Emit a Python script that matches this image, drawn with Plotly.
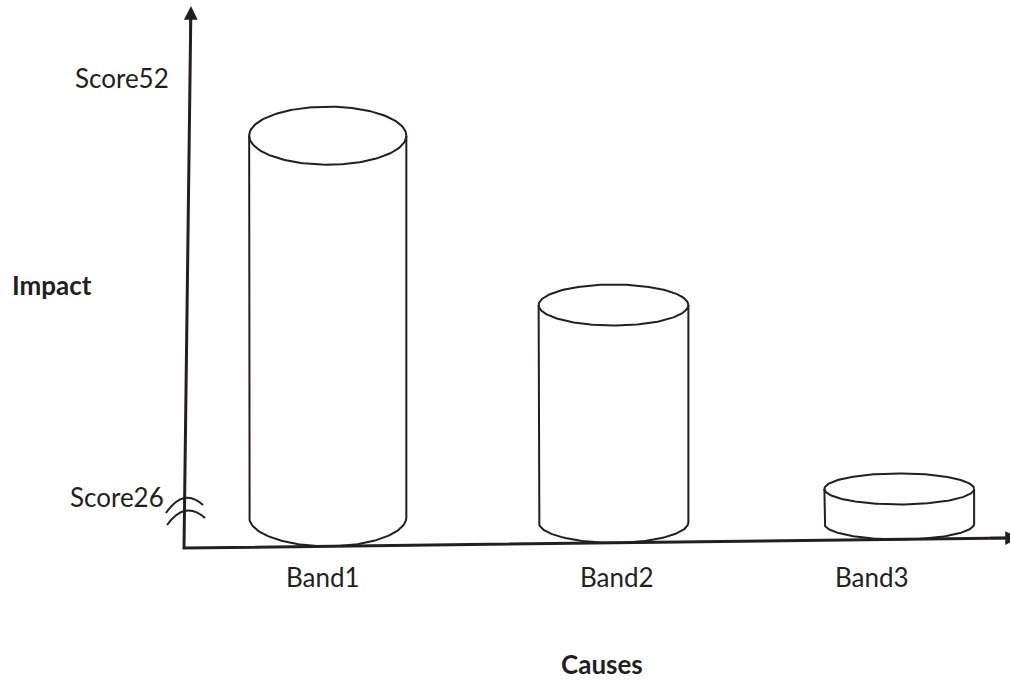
import numpy as np
import plotly.graph_objects as go

# ---------------- data ----------------
categories = ["Band1", "Band2", "Band3"]
impact = [48.4, 37.9, 26.5]
tick_values = [26, 52]
tick_labels = ["Score26", "Score52"]
x_title = "Causes"
y_title = "Impact"

# ---------------- style ----------------
W, H = 1010, 681
INK = "#231f20"
FONT = "Lato"
FS = 26
half_width = [0.275, 0.262, 0.262]      # cylinder half width (category units)
ellipse_ry_px = [29, 20.5, 15.5]        # perspective depth of each cylinder
label_xshift = [-5, 3, -27]             # hand-placed band labels

# axis scale (pixels per unit) and placement
PX_PER_X, X0_PX = 285.75, 327.75
PX_PER_Y, Y26_PX = 16.13, 497
x_range = [-X0_PX / PX_PER_X, (W - X0_PX) / PX_PER_X]
y_range = [26 - (H - Y26_PX) / PX_PER_Y, 26 + Y26_PX / PX_PER_Y]


def dx(px):
    return x_range[0] + px / PX_PER_X


def dy(py):
    return y_range[1] - py / PX_PER_Y


# hand-drawn axes (slightly tilted), pixel geometry
ORIGIN = (184, 548)
Y_TIP = (191, 6)
X_TIP = (1019, 538)
ox, oy = dx(ORIGIN[0]), dy(ORIGIN[1])
yx_tip, yy_tip = dx(Y_TIP[0]), dy(Y_TIP[1])
xx_tip, xy_tip = dx(X_TIP[0]), dy(X_TIP[1])


def x_axis_y(x):
    return oy + (xy_tip - oy) * (x - ox) / (xx_tip - ox)


def y_axis_x(y):
    return ox + (yx_tip - ox) * (y - oy) / (yy_tip - oy)


fig = go.Figure()

# axes lines
fig.add_trace(go.Scatter(
    x=[dx(Y_TIP[0] - 0.2), ox, dx(X_TIP[0] - 10)],
    y=[dy(Y_TIP[1] + 10), oy, dy(X_TIP[1])],
    mode="lines", line=dict(color=INK, width=3), hoverinfo="skip", showlegend=False))

# cylinders
t_full = np.linspace(0, 2 * np.pi, 181)
t_half = np.linspace(np.pi, 2 * np.pi, 91)
for i, (cat, val) in enumerate(zip(categories, impact)):
    hw = half_width[i]
    ry = ellipse_ry_px[i] / PX_PER_Y
    base = x_axis_y(i) + ry
    xs = list(i + hw * np.cos(t_full)) + [None]
    ys = list(val + ry * np.sin(t_full)) + [None]
    xs += [i - hw] + list(i + hw * np.cos(t_half)) + [i + hw]
    ys += [val] + list(base + ry * np.sin(t_half)) + [val]
    fig.add_trace(go.Scatter(
        x=xs, y=ys, mode="lines", line=dict(color=INK, width=2),
        name=cat, hoverinfo="skip", showlegend=False))

annotations = []
# arrow heads
annotations.append(dict(
    x=yx_tip, y=yy_tip, xref="x", yref="y",
    ax=dx(Y_TIP[0] - 0.5), ay=dy(Y_TIP[1] + 30), axref="x", ayref="y",
    text="", showarrow=True, arrowhead=2, arrowsize=1.1, arrowwidth=2.5,
    arrowcolor=INK, standoff=0))
annotations.append(dict(
    x=xx_tip, y=xy_tip, xref="x", yref="y",
    ax=dx(X_TIP[0] - 30), ay=dy(X_TIP[1]), axref="x", ayref="y",
    text="", showarrow=True, arrowhead=2, arrowsize=1.1, arrowwidth=2.5,
    arrowcolor=INK, standoff=0))

# y tick labels
for v, lab in zip(tick_values, tick_labels):
    annotations.append(dict(
        x=y_axis_x(v), y=v, xref="x", yref="y", text=lab, showarrow=False,
        xanchor="right", yanchor="middle", xshift=-19,
        font=dict(family=FONT, size=FS, color=INK)))

# x category labels
for i, cat in enumerate(categories):
    annotations.append(dict(
        x=i, y=dy(577), xref="x", yref="y", text=cat, showarrow=False,
        xanchor="center", yanchor="middle", xshift=label_xshift[i],
        font=dict(family=FONT, size=FS, color=INK)))

# titles
annotations.append(dict(
    x=52 / W, y=1 - 285 / H, xref="paper", yref="paper", text="<b>%s</b>" % y_title,
    showarrow=False, xanchor="center", yanchor="middle",
    font=dict(family=FONT, size=FS, color=INK)))
annotations.append(dict(
    x=602 / W, y=0, xref="paper", yref="paper", text="<b>%s</b>" % x_title,
    showarrow=False, xanchor="center", yanchor="bottom", borderpad=0,
    font=dict(family=FONT, size=FS, color=INK)))

# axis break mark
shapes = []
for (p0, c, p1) in [((166, 513), (184, 487), (203, 505)),
                    ((167, 525), (185, 500), (205, 518))]:
    shapes.append(dict(
        type="path", xref="x", yref="y",
        path="M %f,%f Q %f,%f %f,%f" % (dx(p0[0]), dy(p0[1]), dx(c[0]), dy(c[1]),
                                        dx(p1[0]), dy(p1[1])),
        line=dict(color=INK, width=2)))

fig.update_layout(
    width=W, height=H, margin=dict(l=0, r=0, t=0, b=0),
    paper_bgcolor="white", plot_bgcolor="white",
    xaxis=dict(range=x_range, visible=False, fixedrange=True),
    yaxis=dict(range=y_range, visible=False, fixedrange=True),
    annotations=annotations, shapes=shapes, showlegend=False)

fig.write_html(
    "out.html",
    config={"displayModeBar": False},
    post_script="document.body.style.margin='0';document.body.style.padding='0';"
                "document.body.style.overflow='hidden';")
